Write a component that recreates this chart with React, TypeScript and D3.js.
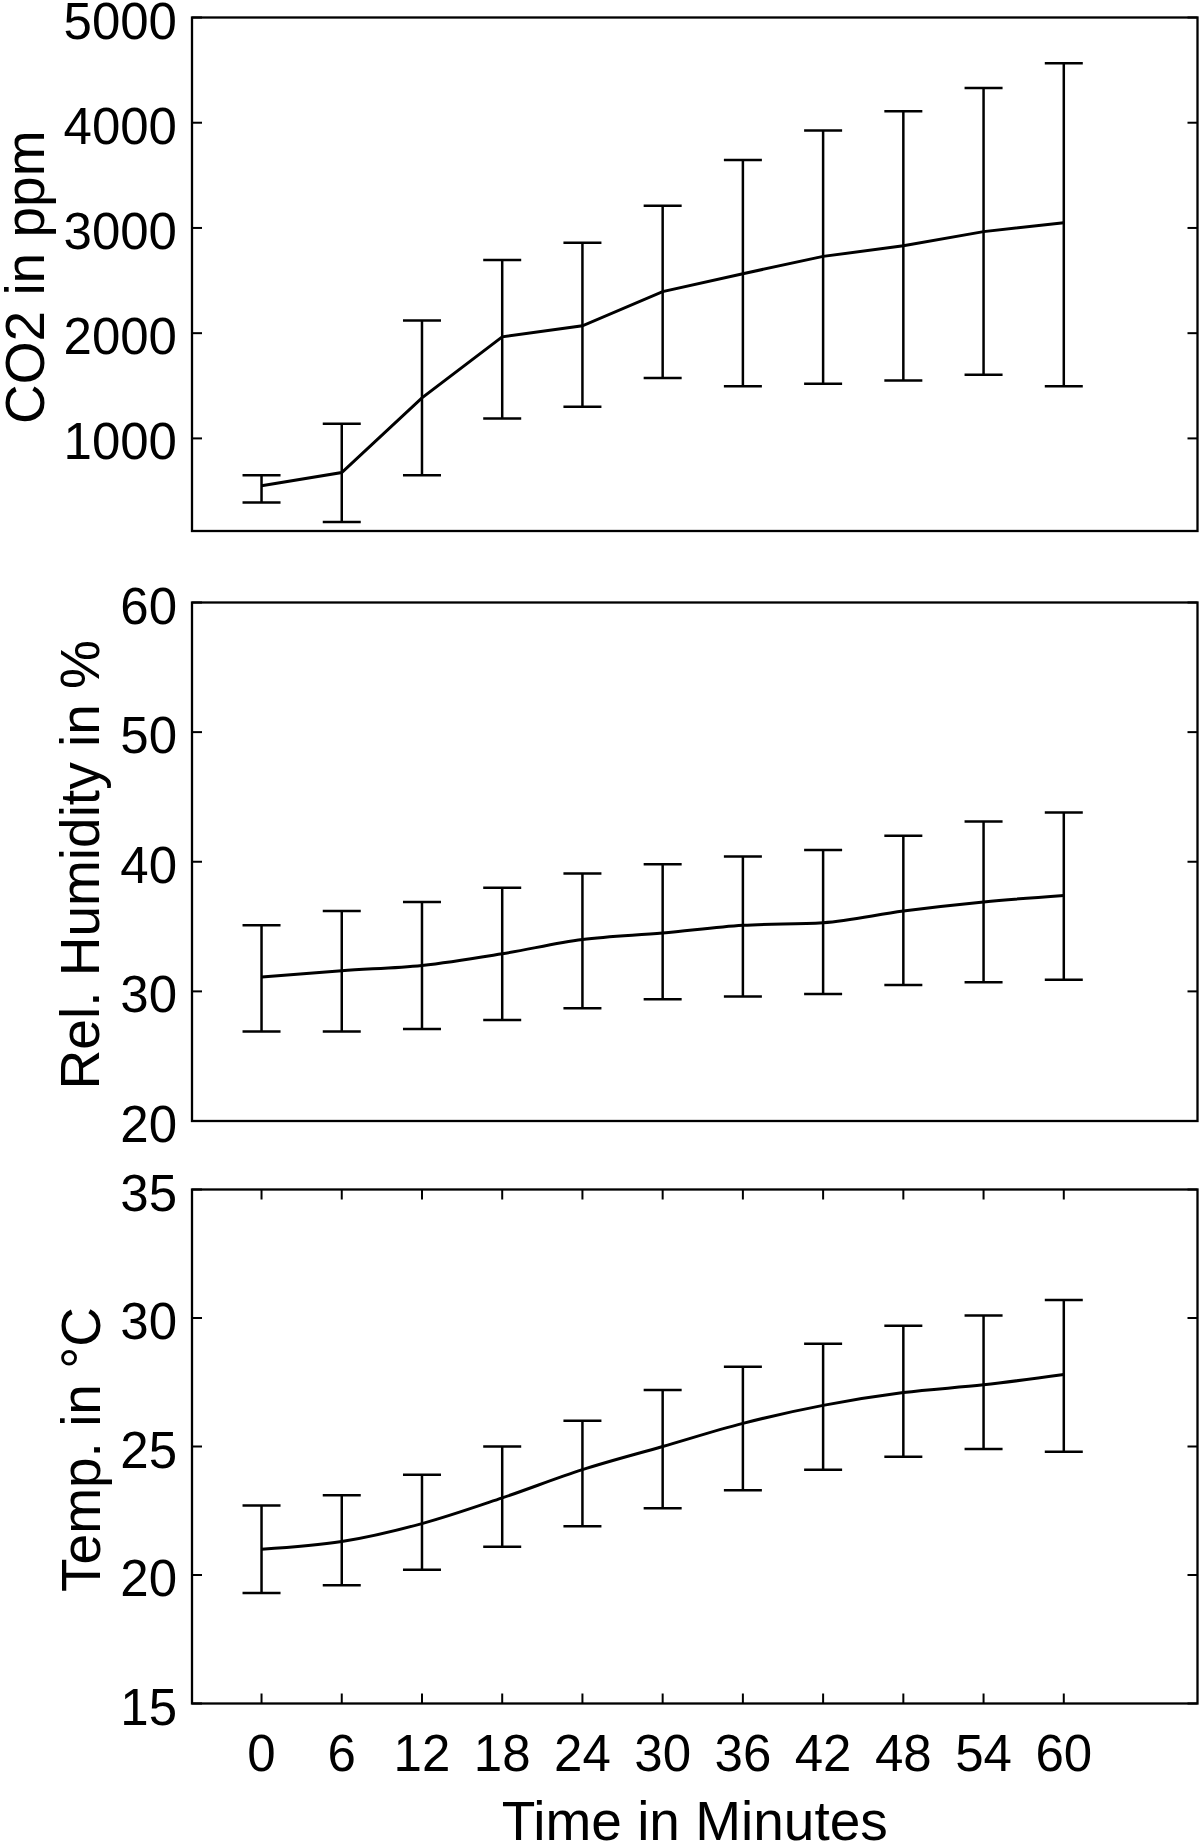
import * as d3 from 'd3';

// sampling times (minutes)
const minutes = [0, 6, 12, 18, 24, 30, 36, 42, 48, 54, 60];

// CO2 in ppm
const co2Mean = [550, 675, 1385, 1965, 2070, 2395, 2565, 2730, 2830, 2965, 3050];
const co2Upper = [650, 1140, 2120, 2695, 2860, 3210, 3645, 3925, 4110, 4330, 4565];
const co2Lower = [390, 205, 650, 1190, 1300, 1575, 1495, 1520, 1550, 1605, 1495];

// relative humidity in %
const humMean = [31.1, 31.6, 32.0, 32.9, 34.0, 34.5, 35.1, 35.3, 36.2, 36.9, 37.4];
const humUpper = [35.1, 36.2, 36.9, 38.0, 39.1, 39.8, 40.4, 40.9, 42.0, 43.1, 43.8];
const humLower = [26.9, 26.9, 27.1, 27.8, 28.7, 29.4, 29.6, 29.8, 30.5, 30.7, 30.9];

// temperature in °C
const tempMean = [21.0, 21.3, 22.0, 23.0, 24.1, 25.0, 25.9, 26.6, 27.1, 27.4, 27.8];
const tempUpper = [22.7, 23.1, 23.9, 25.0, 26.0, 27.2, 28.1, 29.0, 29.7, 30.1, 30.7];
const tempLower = [19.3, 19.6, 20.2, 21.1, 21.9, 22.6, 23.3, 24.1, 24.6, 24.9, 24.8];

const co2Ticks = [1000, 2000, 3000, 4000, 5000];
const humTicks = [20, 30, 40, 50, 60];
const tempTicks = [15, 20, 25, 30, 35];

const W = 1200;
const H = 1844;
const FONT = '"Liberation Sans", Arial, Helvetica, sans-serif';
const LEFT = 192;
const RIGHT = 1197.5;
const TICK = 10;

const x = d3.scaleLinear().domain([-5.2, 70]).range([LEFT, RIGHT]);

interface PanelProps {
  top: number;
  bottom: number;
  domain: [number, number];
  ticks: number[];
  mean: number[];
  upper: number[];
  lower: number[];
  label: string;
  labelX: number;
  curve: d3.CurveFactory;
  showX?: boolean;
}

function Panel({ top, bottom, domain, ticks, mean, upper, lower, label, labelX, curve, showX }: PanelProps) {
  const y = d3.scaleLinear().domain(domain).range([bottom, top]);
  const line = d3.line<number>()
    .x((_, i) => x(minutes[i]))
    .y(d => y(d))
    .curve(curve);
  const cap = 19;

  return (
    <g>
      {/* error bars */}
      {minutes.map((m, i) => (
        <g key={m} stroke="#000" strokeWidth={2.5} fill="none">
          <line x1={x(m)} x2={x(m)} y1={y(upper[i])} y2={y(lower[i])} />
          <line x1={x(m) - cap} x2={x(m) + cap} y1={y(upper[i])} y2={y(upper[i])} />
          <line x1={x(m) - cap} x2={x(m) + cap} y1={y(lower[i])} y2={y(lower[i])} />
        </g>
      ))}
      <path d={line(mean) ?? ''} fill="none" stroke="#000" strokeWidth={3} />

      {/* box */}
      <rect x={LEFT} y={top} width={RIGHT - LEFT} height={bottom - top}
        fill="none" stroke="#000" strokeWidth={2.3} />

      {/* y ticks, both sides */}
      {ticks.map(t => (
        <g key={t}>
          <line x1={LEFT} x2={LEFT + TICK} y1={y(t)} y2={y(t)} stroke="#000" strokeWidth={2} />
          <line x1={RIGHT - TICK} x2={RIGHT} y1={y(t)} y2={y(t)} stroke="#000" strokeWidth={2} />
          <text x={177} y={y(t) + 21} textAnchor="end" fontSize={51} fontFamily={FONT}>{t}</text>
        </g>
      ))}

      {/* x ticks on top and bottom */}
      {showX && minutes.map(m => (
        <g key={m}>
          <line x1={x(m)} x2={x(m)} y1={bottom} y2={bottom - TICK} stroke="#000" strokeWidth={2} />
          <line x1={x(m)} x2={x(m)} y1={top} y2={top + TICK} stroke="#000" strokeWidth={2} />
          <text x={x(m)} y={1771} textAnchor="middle" fontSize={51} fontFamily={FONT}>{m}</text>
        </g>
      ))}

      <text
        transform={`translate(${labelX},${(top + bottom) / 2 + 3}) rotate(-90)`}
        textAnchor="middle" fontSize={55} fontFamily={FONT}
      >
        {label}
      </text>
    </g>
  );
}

export default function App() {
  return (
    <svg width={W} height={H} viewBox={`0 0 ${W} ${H}`}
      style={{ position: 'absolute', left: 0, top: 0, background: '#fff' }}>
      <rect width={W} height={H} fill="#fff" />
      <Panel top={17.5} bottom={531} domain={[120, 5000]} ticks={co2Ticks}
        mean={co2Mean} upper={co2Upper} lower={co2Lower}
        label="CO2 in ppm" labelX={44} curve={d3.curveLinear} />
      <Panel top={602.5} bottom={1121} domain={[20, 60]} ticks={humTicks}
        mean={humMean} upper={humUpper} lower={humLower}
        label="Rel. Humidity in %" labelX={99} curve={d3.curveMonotoneX} />
      <Panel top={1189.5} bottom={1703.5} domain={[15, 35]} ticks={tempTicks}
        mean={tempMean} upper={tempUpper} lower={tempLower}
        label="Temp. in °C" labelX={100} curve={d3.curveMonotoneX} showX />
      <text x={(LEFT + RIGHT) / 2} y={1840} textAnchor="middle" fontSize={55} fontFamily={FONT}>
        Time in Minutes
      </text>
    </svg>
  );
}
